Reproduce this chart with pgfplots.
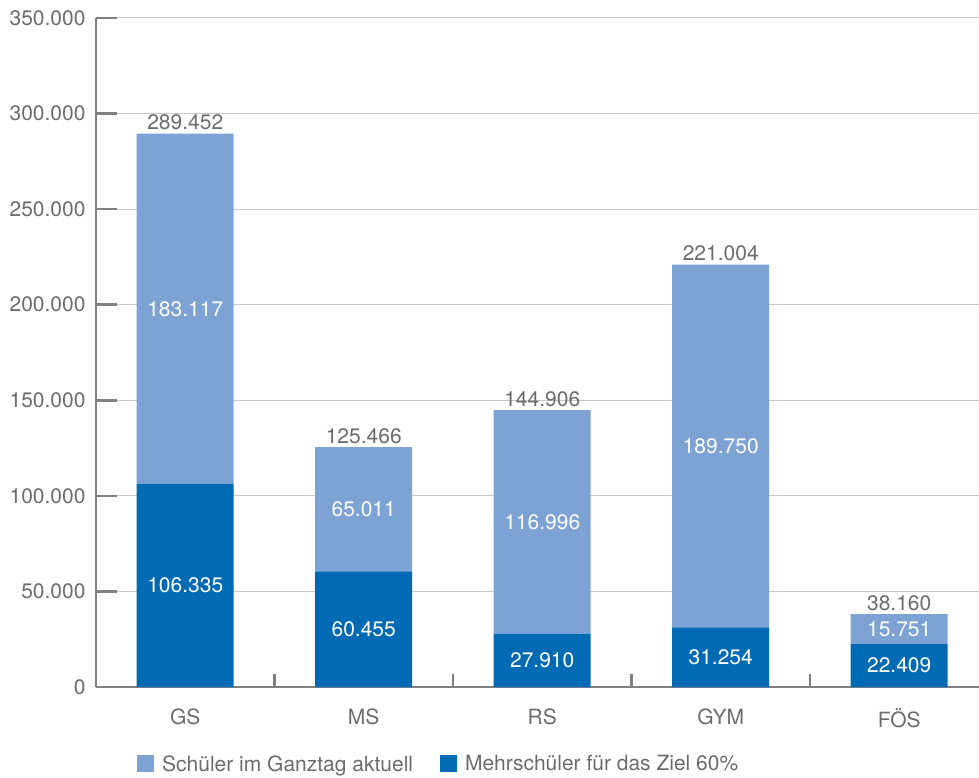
\documentclass[border=0pt]{standalone}
\usepackage{pgfplots}
\pgfplotsset{compat=1.18}
\usepackage{pgfplotstable}
\usepackage{fontspec}
\setmainfont{TeX Gyre Heros}

\definecolor{lightbar}{RGB}{125,162,212}
\definecolor{darkbar}{RGB}{0,106,180}
\definecolor{txtgray}{RGB}{108,108,110}
\definecolor{axisgray}{RGB}{128,128,130}
\definecolor{gridgray}{RGB}{200,200,200}

% Schüler je Schulart, in Tausend
\pgfplotstableread{
x  mehr     aktuell
0  106.335  183.117
1  60.455   65.011
2  27.910   116.996
3  31.254   189.750
4  22.409   15.751
}\schueler

\newcommand\lblfont{\fontsize{21bp}{25bp}\selectfont}
\newcommand\zahl[1]{\pgfmathprintnumber[fixed,fixed zerofill,precision=3,assume math mode=true]{#1}}

% gemeinsame Geometrie beider Achsen
\pgfplotsset{geom/.style={
  at={(96bp,91bp)}, anchor=south west,
  scale only axis, width=883bp, height=669bp,
  xmin=-0.5, xmax=4.447, ymin=0, ymax=350}}

\begin{document}
\begin{tikzpicture}
\begin{axis}[
  geom,
  ybar stacked, bar width=97bp,
  axis x line=bottom, axis y line=left,
  axis line style={axisgray, line width=2.5bp, -},
  ytick={0,50,...,350},
  yticklabels={0,50.000,100.000,150.000,200.000,250.000,300.000,350.000},
  xtick={0,...,4}, xticklabels={GS,MS,RS,GYM,FÖS},
  minor xtick={0.5,1.5,2.5,3.5},
  major x tick style={draw=none},
  ytick style={axisgray, line width=2.5bp},
  minor x tick style={axisgray, line width=2.5bp},
  tick align=inside,
  major tick length=21bp, minor tick length=13bp,
  ymajorgrids, grid style={gridgray, line width=1bp},
  tick label style={font=\lblfont, text=txtgray},
  yticklabel style={xshift=-7bp},
  xticklabel style={yshift=-18bp},
  reverse legend, legend columns=2,
  legend style={at={(0.0464,-0.1150)}, anchor=west, draw=none, fill=none,
    inner sep=0pt, font=\lblfont, text=txtgray,
    /tikz/every odd column/.append style={column sep=6bp},
    /tikz/every even column/.append style={column sep=25bp}},
  clip=false,
]
% Werte mittig in den Segmenten
\addplot[fill=darkbar, draw=none,
  legend image code/.code={\fill[darkbar] (0bp,-8.5bp) rectangle (17bp,8.5bp);},
  visualization depends on={\thisrow{mehr} \as \rawy},
  nodes near coords={\zahl{\rawy}},
  every node near coord/.style={anchor=center, text=white, font=\lblfont}]
  table[x=x, y=mehr] {\schueler};
\addlegendentry{Mehrschüler für das Ziel 60\%}

\addplot[fill=lightbar, draw=none,
  legend image code/.code={\fill[lightbar] (0bp,-8.5bp) rectangle (17bp,8.5bp);},
  visualization depends on={\thisrow{aktuell} \as \rawy},
  nodes near coords={\zahl{\rawy}},
  every node near coord/.style={anchor=center, text=white, font=\lblfont}]
  table[x=x, y=aktuell] {\schueler};
\addlegendentry{Schüler im Ganztag aktuell}
\end{axis}

% Summen über den Balken
\begin{axis}[geom, hide axis, clip=false]
\addplot[draw=none, mark=none,
  nodes near coords={\zahl{\pgfplotspointmeta}},
  every node near coord/.style={anchor=south, text=txtgray, font=\lblfont}]
  table[x=x, y expr=\thisrow{mehr}+\thisrow{aktuell}] {\schueler};
\end{axis}
\pgfresetboundingbox
\path[use as bounding box] (0,0) rectangle (979bp,778bp);
\end{tikzpicture}
\end{document}
